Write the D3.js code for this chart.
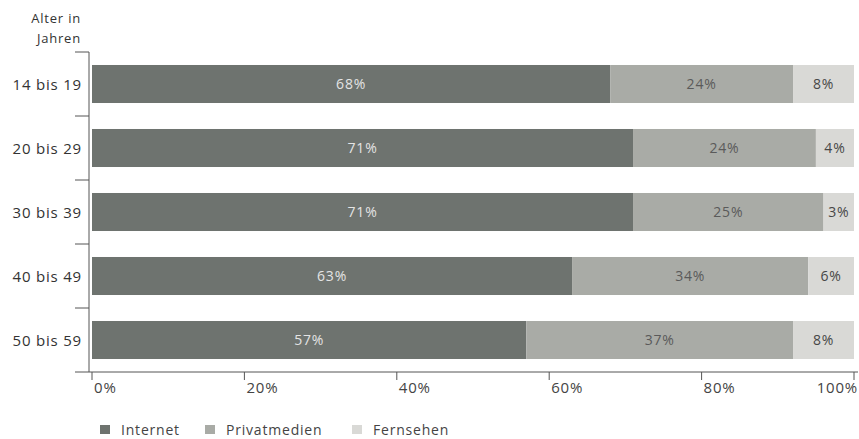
<!DOCTYPE html>
<html>
<head>
<meta charset="utf-8">
<script src="https://cdn.jsdelivr.net/npm/d3@7"></script>
<style>
  body { margin: 0; background: #fff; }
  svg { font-family: "Open Sans", "DejaVu Sans", sans-serif; letter-spacing: 0.8px; }
</style>
</head>
<body>
<div id="chart"></div>
<script>
// age groups and shares per medium (percent)
const ageGroups = ["14 bis 19", "20 bis 29", "30 bis 39", "40 bis 49", "50 bis 59"];
const internet = [68, 71, 71, 63, 57];
const privatmedien = [24, 24, 25, 34, 37];
const fernsehen = [8, 4, 3, 6, 8];
const seriesNames = ["Internet", "Privatmedien", "Fernsehen"];
const xTicks = [0, 20, 40, 60, 80, 100];

const width = 859, height = 439;
const colors = ["#6e736f", "#a9aba6", "#d9d9d6"];
const labelColors = ["#e4e4e4", "#5a5a5a", "#474747"];

const svg = d3.select("#chart")
    .append("svg")
    .attr("width", width)
    .attr("height", height);

const x = d3.scaleLinear().domain([0, 100]).range([92, 854]);
const y = d3.scaleBand().domain(ageGroups).range([52, 372])
    .paddingInner(0.406).paddingOuter(0.203);

// segments as in the original: Fernsehen always runs to the 100% end,
// Privatmedien is cut where it would overlap it
const segments = [];
ageGroups.forEach((g, i) => {
    const e1 = internet[i];
    const e2 = Math.min(internet[i] + privatmedien[i], 100 - fernsehen[i]);
    segments.push({group: g, k: 0, x0: 0, x1: e1, value: internet[i]});
    segments.push({group: g, k: 1, x0: e1, x1: e2, value: privatmedien[i]});
    segments.push({group: g, k: 2, x0: e2, x1: 100, value: fernsehen[i]});
});

svg.append("g").selectAll("rect")
    .data(segments)
    .join("rect")
    .attr("x", d => x(d.x0))
    .attr("y", d => y(d.group))
    .attr("width", d => x(d.x1) - x(d.x0))
    .attr("height", y.bandwidth())
    .attr("fill", d => colors[d.k]);

svg.append("g").selectAll("text")
    .data(segments)
    .join("text")
    .attr("x", d => (x(d.x0) + x(d.x1)) / 2)
    .attr("y", d => y(d.group) + y.bandwidth() / 2)
    .attr("dy", "0.35em")
    .attr("text-anchor", "middle")
    .attr("font-size", 14)
    .attr("fill", d => labelColors[d.k])
    .text(d => d.value + "%");

// y axis: line, separator ticks and labels
const step = y.step();
svg.append("line")
    .attr("x1", 89).attr("x2", 89)
    .attr("y1", 52).attr("y2", 372)
    .attr("stroke", "#555");

svg.append("g").selectAll("line")
    .data(ageGroups)
    .join("line")
    .attr("x1", 75).attr("x2", 89)
    .attr("y1", d => y(d) - step * 0.203)
    .attr("y2", d => y(d) - step * 0.203)
    .attr("stroke", "#555");

svg.append("g").selectAll("text")
    .data(ageGroups)
    .join("text")
    .attr("x", 82)
    .attr("y", d => y(d) + y.bandwidth() / 2)
    .attr("dy", "0.38em")
    .attr("text-anchor", "end")
    .attr("font-size", 15)
    .attr("fill", "#333")
    .text(d => d);

svg.append("text")
    .attr("x", 81).attr("y", 23)
    .attr("text-anchor", "end")
    .attr("font-size", 13)
    .attr("fill", "#333")
    .text("Alter in");
svg.append("text")
    .attr("x", 81).attr("y", 43)
    .attr("text-anchor", "end")
    .attr("font-size", 13)
    .attr("fill", "#333")
    .text("Jahren");

// x axis
svg.append("line")
    .attr("x1", 75).attr("x2", 858)
    .attr("y1", 372).attr("y2", 372)
    .attr("stroke", "#555");

svg.append("g").selectAll("line")
    .data(xTicks)
    .join("line")
    .attr("x1", d => x(d)).attr("x2", d => x(d))
    .attr("y1", 372).attr("y2", 380)
    .attr("stroke", "#555");

svg.append("g").selectAll("text")
    .data(xTicks)
    .join("text")
    .attr("x", d => d === 100 ? 858 : x(d) + 2)
    .attr("y", 393)
    .attr("text-anchor", d => d === 100 ? "end" : "start")
    .attr("font-size", 15)
    .attr("fill", "#444")
    .text(d => d + "%");

// legend
const legendX = [100, 205, 352];
const legend = svg.append("g").selectAll("g")
    .data(seriesNames)
    .join("g")
    .attr("transform", (d, i) => `translate(${legendX[i]},435)`);
legend.append("rect")
    .attr("x", 0).attr("y", -10)
    .attr("width", 10).attr("height", 9)
    .attr("fill", (d, i) => colors[i]);
legend.append("text")
    .attr("x", 21).attr("y", 0)
    .attr("font-size", 14)
    .attr("fill", "#444")
    .text(d => d);
</script>
</body>
</html>
